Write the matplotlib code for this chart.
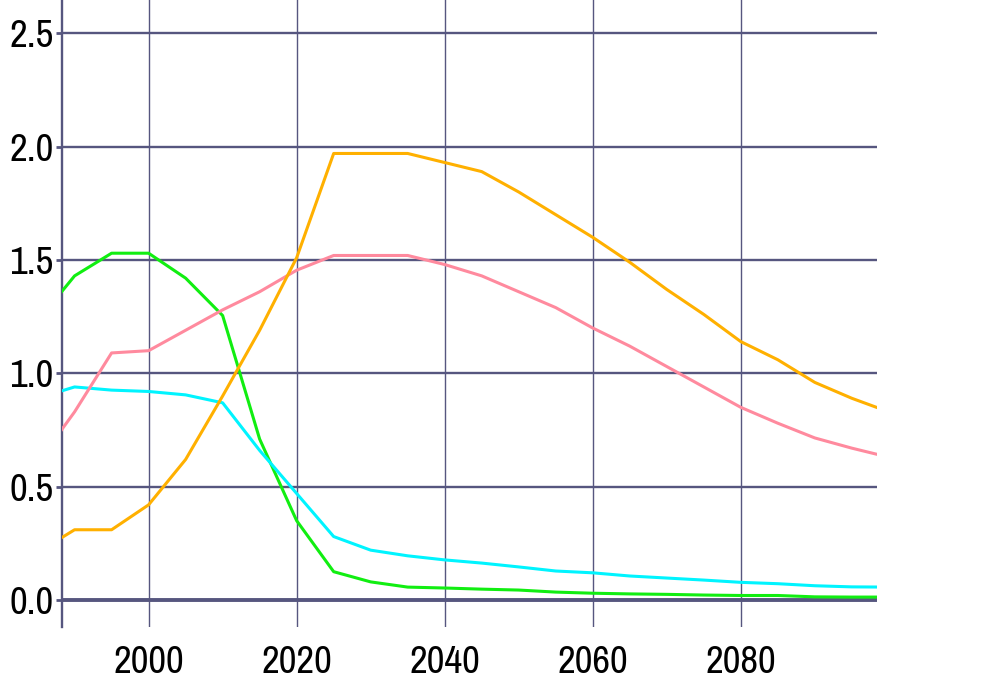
import matplotlib
matplotlib.use("Agg")
import matplotlib.pyplot as plt
from matplotlib import font_manager

years = [1988, 1990, 1995, 2000, 2005, 2010, 2015, 2020, 2025, 2030, 2035, 2040,
         2045, 2050, 2055, 2060, 2065, 2070, 2075, 2080, 2085, 2090, 2095, 2100]
green = [1.35, 1.43, 1.53, 1.53, 1.42, 1.255, 0.71, 0.35, 0.125, 0.08, 0.057, 0.053,
         0.048, 0.044, 0.035, 0.03, 0.027, 0.025, 0.022, 0.02, 0.02, 0.014, 0.013, 0.013]
cyan = [0.92, 0.94, 0.926, 0.92, 0.905, 0.87, 0.66, 0.47, 0.28, 0.22, 0.195, 0.177,
        0.163, 0.146, 0.128, 0.12, 0.106, 0.097, 0.088, 0.078, 0.072, 0.063, 0.058, 0.057]
pink = [0.74, 0.83, 1.09, 1.10, 1.19, 1.28, 1.36, 1.455, 1.52, 1.52, 1.52, 1.48,
        1.43, 1.36, 1.29, 1.20, 1.12, 1.03, 0.94, 0.85, 0.78, 0.715, 0.67, 0.63]
orange = [0.27, 0.31, 0.31, 0.42, 0.62, 0.90, 1.19, 1.51, 1.97, 1.97, 1.97, 1.93,
          1.89, 1.80, 1.70, 1.60, 1.49, 1.37, 1.26, 1.14, 1.06, 0.96, 0.89, 0.83]
xticks = [2000, 2020, 2040, 2060, 2080]
yticks = [0.0, 0.5, 1.0, 1.5, 2.0, 2.5]

# pick a narrow font if one is installed
fam, stretch = "DejaVu Sans", "condensed"
for f in font_manager.fontManager.ttflist:
    if "Narrow" in f.name or ("Condensed" in f.name and "DejaVu" not in f.name):
        fam, stretch = f.name, "normal"
        break
else:
    cond = [f for f in font_manager.fontManager.ttflist
            if f.name == "Liberation Sans" and str(f.stretch) in ("condensed", "semi-condensed")]
    if cond:
        fam, stretch = "Liberation Sans", "condensed"

fig = plt.figure(figsize=(9.96, 6.81), dpi=100)
ax = fig.add_axes([62/996, (681-627)/681, (877-62)/996, 627/681])

grid_c = "#56567f"
for y in yticks:
    ax.axhline(y, color=grid_c, lw=1.7 if y else 2.8, zorder=1)
for x in xticks:
    ax.axvline(x, color=grid_c, lw=1.0, zorder=1)

ax.plot(years, green, color="#11ee11", lw=2.2, zorder=3)
ax.plot(years, cyan, color="#00f4ff", lw=2.2, zorder=3)
ax.plot(years, pink, color="#ff8a9e", lw=2.2, zorder=3)
ax.plot(years, orange, color="#ffb000", lw=2.2, zorder=3)

ax.set_xlim(1988.3, 2098.4)
ax.set_ylim(-0.119, 2.647)
ax.set_xticks(xticks)
ax.set_yticks(yticks)
ax.set_yticklabels([f"{v:.1f}" for v in yticks])
for s in ["top", "right", "bottom"]:
    ax.spines[s].set_visible(False)
ax.spines["left"].set_color(grid_c)
ax.spines["left"].set_linewidth(1.7)
ax.tick_params(axis="x", length=0, pad=13, labelsize=28)
ax.tick_params(axis="y", length=4, width=2, color=grid_c, pad=2, labelsize=28)
for lab in ax.get_xticklabels() + ax.get_yticklabels():
    lab.set_fontfamily(fam)
    lab.set_fontstretch(stretch)

fig.savefig("out.png", dpi=100)
